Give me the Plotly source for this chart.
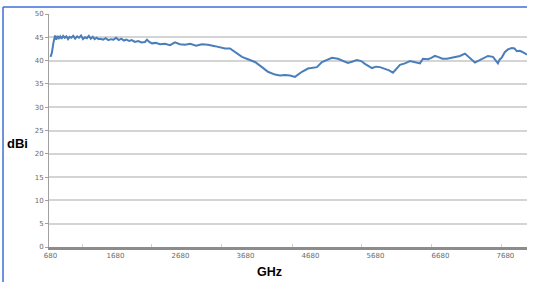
import plotly.graph_objects as go

freq_ghz = [680, 700, 725, 750, 770, 790, 810, 830, 850, 875, 900, 925, 950, 975, 1000,
            1030, 1060, 1090, 1120, 1150, 1180, 1210, 1240, 1270, 1300, 1330, 1360, 1390,
            1420, 1450, 1490, 1530, 1570, 1610, 1650, 1690, 1730, 1770, 1810, 1850, 1890,
            1930, 1980, 2030, 2080, 2134, 2165, 2200, 2242, 2300, 2365, 2440, 2519, 2595,
            2670, 2749, 2830, 2920, 3010, 3103, 3211, 3290, 3365, 3442, 3500, 3549, 3626,
            3718, 3826, 3934, 4026, 4134, 4210, 4288, 4365, 4442, 4549, 4642, 4710, 4780,
            4857, 4930, 5011, 5103, 5180, 5257, 5330, 5395, 5460, 5518, 5626, 5690, 5749,
            5826, 5890, 5949, 6000, 6057, 6134, 6211, 6242, 6300, 6365, 6411, 6488, 6540,
            6595, 6642, 6710, 6780, 6850, 6903, 6980, 7057, 7130, 7211, 7270, 7319, 7370,
            7411, 7488, 7530, 7565, 7590, 7626, 7670, 7718, 7780, 7820, 7857, 7900, 7934,
            7970, 8011]
gain_dbi = [40.8, 41.6, 43.8, 45.4, 44.5, 45.3, 44.8, 45.2, 44.7, 45.3, 44.9, 45.2, 44.6,
            45.1, 44.9, 45.3, 44.7, 45.2, 44.9, 45.4, 44.6, 45.0, 44.8, 45.3, 44.7, 45.1,
            44.6, 44.9, 44.6, 44.7, 44.5, 44.8, 44.4, 44.6, 44.5, 44.9, 44.4, 44.7, 44.3,
            44.5, 44.2, 44.4, 44.0, 44.2, 43.9, 44.0, 44.5, 44.0, 43.7, 43.8, 43.5, 43.6,
            43.3, 43.9, 43.5, 43.4, 43.6, 43.2, 43.5, 43.4, 43.1, 42.9, 42.6, 42.6, 42.0,
            41.5, 40.8, 40.3, 39.7, 38.6, 37.6, 37.0, 36.8, 36.9, 36.8, 36.5, 37.6, 38.3,
            38.5, 38.6, 39.7, 40.2, 40.6, 40.4, 40.0, 39.5, 39.8, 40.1, 39.9, 39.3, 38.4,
            38.7, 38.6, 38.3, 37.9, 37.4, 38.2, 39.1, 39.4, 39.9, 39.8, 39.6, 39.4, 40.4,
            40.3, 40.6, 41.0, 40.8, 40.4, 40.4, 40.6, 40.7, 41.0, 41.5, 40.6, 39.6, 40.0,
            40.4, 40.7, 41.0, 40.8, 40.0, 39.4, 40.2, 40.7, 41.8, 42.4, 42.7, 42.6, 42.0,
            42.1, 41.9, 41.6, 41.3]

x_tick_vals = [680, 1680, 2680, 3680, 4680, 5680, 6680, 7680]
x_tick_text = [str(v) for v in x_tick_vals]
x_minor_ticks = [1165, 2227, 3304, 4396, 5470, 6550, 7627]
y_tick_vals = [0, 5, 10, 15, 20, 25, 30, 35, 40, 45, 50]

fig = go.Figure()
fig.add_trace(go.Scatter(
    x=freq_ghz, y=gain_dbi, mode="lines",
    line=dict(color="#4a7ebb", width=2),
    showlegend=False, hoverinfo="skip",
))

tick_font = dict(family="DejaVu Sans", size=7, color="#6a6a6a")

fig.update_layout(
    width=536, height=282,
    margin=dict(l=49, r=9, t=14, b=35),
    paper_bgcolor="white", plot_bgcolor="white",
    xaxis=dict(
        range=[657, 8012], tickvals=x_tick_vals, ticktext=x_tick_text,
        tickfont=tick_font, showgrid=False, zeroline=False,
        showline=True, linecolor="#8c8c8c", linewidth=3,
        ticks="", ticklabelstandoff=0,
        minor=dict(tickvals=x_minor_ticks, ticks="inside", ticklen=3,
                   tickcolor="#d0d0d0", tickwidth=1, showgrid=False),
    ),
    yaxis=dict(
        range=[0, 50], tickvals=y_tick_vals, tickfont=tick_font,
        showgrid=True, gridcolor="#d4d4d4", gridwidth=1.5, zeroline=False,
        showline=True, linecolor="#a0a0a0", linewidth=1,
        ticks="outside", ticklen=3, tickcolor="#a0a0a0",
    ),
    annotations=[
        dict(text="<b>dBi</b>", x=-0.0659, y=0.446, xref="paper", yref="paper",
             showarrow=False, font=dict(family="Liberation Sans", size=13, color="black"),
             xanchor="center", yanchor="middle"),
        dict(text="<b>GHz</b>", x=0.462, y=-0.107, xref="paper", yref="paper",
             showarrow=False, font=dict(family="Liberation Sans", size=12.5, color="black"),
             xanchor="center", yanchor="middle"),
    ],
    shapes=[
        dict(type="line", xref="paper", yref="paper", x0=-0.0962, x1=1.0,
             y0=1.030, y1=1.030, line=dict(color="#3d6fdc", width=1.5)),
        dict(type="line", xref="paper", yref="paper", x0=-0.0962, x1=-0.0962,
             y0=1.030, y1=-0.16, line=dict(color="#3d6fdc", width=1.5)),
    ],
)

fig.write_html("out.html", config={"displayModeBar": False},
               post_script="document.body.style.margin='0';")
